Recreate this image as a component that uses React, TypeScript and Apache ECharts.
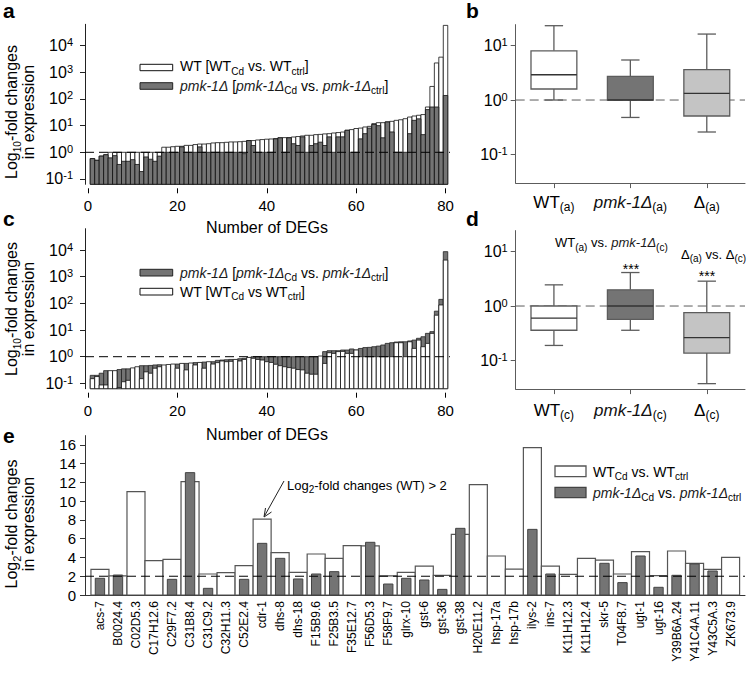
import { useEffect, useRef } from 'react';
import * as echarts from 'echarts';

const FONT = '"Liberation Sans", Arial, Helvetica, sans-serif';

// ---------------- data ----------------
const degTicks = [0, 20, 40, 60, 80];
const decadeTicksAC = [-1, 0, 1, 2, 3, 4];
const decadeTicksBD = [-1, 0, 1];
const log2Ticks = [0, 2, 4, 6, 8, 10, 12, 14, 16];

// panel a: fold changes of the 80 DEGs
const aWT = [
  0.58, 0.5, 0.72, 0.81, 1, 1, 1, 1, 1, 1,
  1, 1, 1, 1, 1, 1, 1.55, 1.55, 1.62, 1.68,
  1.68, 1.82, 1.82, 1.95, 2.04, 2.04, 2.1, 2.24, 2.3, 2.3,
  2.37, 2.45, 2.45, 2.5, 2.57, 2.75, 2.75, 2.9, 3.0, 3.1,
  3.16, 3.25, 3.5, 3.55, 3.55, 3.75, 3.9, 4.1, 4.35, 4.35,
  4.6, 4.7, 4.9, 5.0, 5.3, 5.5, 5.75, 6.7, 7.1, 7.8,
  8.1, 8.9, 9.4, 11.9, 12.9, 12.9, 13.8, 14.5, 15.8, 16.6,
  18.2, 21, 23, 24.5, 26, 50, 295, 2240, 3700, 57500,
];
const aPmk = [
  0.58, 0.5, 0.72, 0.81, 0.62, 0.75, 0.35, 0.46, 0.46, 0.53,
  0.35, 0.19, 0.67, 0.55, 0.46, 0.72, 1, 1, 1, 1,
  1.6, 1, 1, 1, 1.6, 1, 1, 1, 1, 1,
  1, 1, 1, 1, 0.89, 2.75, 1.8, 1, 1, 1,
  1, 3.2, 3.5, 1, 3.5, 2.1, 1.8, 3.8, 1, 1.8,
  2.1, 2.4, 1.8, 3.8, 1, 3.8, 3.8, 6.7, 1, 1,
  3.2, 5.0, 8.1, 11, 10, 3.5, 13.8, 5.8, 1, 1,
  1, 5.0, 15.8, 18, 4.6, 40, 50, 50, 1, 135,
];

// panel c
const cPmk = [
  0.2, 0.2, 0.24, 0.3, 0.28, 0.28, 0.33, 0.35, 0.35, 0.35,
  0.38, 0.46, 0.46, 0.47, 0.49, 0.5, 0.45, 0.47, 0.5, 0.53,
  0.52, 0.56, 0.55, 0.6, 0.58, 0.63, 0.6, 0.65, 0.73, 0.75,
  0.77, 0.79, 0.75, 0.84, 0.87, 0.9, 1, 1, 1, 1,
  1, 1, 1, 1, 1, 1, 1, 1, 1, 1,
  1, 1, 1.55, 1.68, 1.68, 1.68, 1.78, 1.78, 1.95, 1.78,
  2.04, 2.2, 2.24, 2.37, 2.5, 2.75, 3.16, 3.35, 3.55, 3.63,
  3.63, 3.9, 4.2, 4.9, 5.6, 7.5, 8.7, 51, 141, 8700,
];
const cWT = [
  0.15, 0.18, 0.087, 0.087, 0.3, 0.3, 0.07, 0.115, 0.13, 0.38,
  0.42, 0.15, 0.27, 0.24, 0.37, 0.42, 0.49, 0.51, 0.53, 0.37,
  0.56, 0.32, 0.58, 0.49, 0.61, 0.37, 0.65, 0.53, 0.6, 0.69,
  0.65, 0.67, 0.79, 0.69, 0.79, 0.94, 0.87, 0.79, 0.75, 0.65,
  0.61, 0.52, 0.46, 0.42, 0.39, 0.37, 0.33, 0.32, 0.24, 0.22,
  0.22, 1.06, 0.56, 1.41, 1.33, 1.55, 1.58, 1.33, 1.33, 1.78,
  1, 1, 1, 1, 1, 1, 1, 1, 3.35, 3.35,
  1, 3.63, 2.05, 4.2, 2.37, 3.16, 7.5, 36, 87, 4200,
];

// panels b and d: [lower whisker, Q1, median, Q3, upper whisker]
const catsB = ['WT(a)', 'pmk-1Δ(a)', 'Δ(a)'];
const catsD = ['WT(c)', 'pmk-1Δ(c)', 'Δ(c)'];
const bWT = [1.0, 1.59, 2.9, 7.96, 22.9];
const bPmk = [0.48, 1.0, 1.0, 2.7, 5.4];
const bDelta = [0.26, 0.51, 1.32, 3.6, 16.1];
const dWT = [0.19, 0.36, 0.6, 1.0, 2.44];
const dPmk = [0.36, 0.57, 1.0, 1.98, 4.1];
const dDelta = [0.038, 0.138, 0.265, 0.76, 2.85];

// panel e
const genes = [
  'acs-7', 'B0024.4', 'C02D5.3', 'C17H12.6', 'C29F7.2', 'C31B8.4', 'C31C9.2', 'C32H11.3', 'C52E2.4',
  'cdr-1', 'dhs-8', 'dhs-18', 'F15B9.6', 'F25B3.5', 'F35E12.7', 'F56D5.3', 'F58F9.7', 'glrx-10',
  'gst-6', 'gst-36', 'gst-38', 'H20E11.2', 'hsp-17a', 'hsp-17b', 'ilys-2', 'ins-7', 'K11H12.3',
  'K11H12.4', 'skr-5', 'T04F8.7', 'ugt-1', 'ugt-16', 'Y39B6A.24', 'Y41C4A.11', 'Y43C5A.3', 'ZK673.9',
];
const eWT = [
  2.74, 2.05, 11.02, 3.66, 3.8, 12.09, 2.24, 2.38, 3.13, 8.1, 4.52, 2.42, 4.37, 3.91, 5.26, 5.23,
  2.03, 2.42, 3.09, 2.1, 6.47, 11.77, 4.16, 2.77, 15.72, 3.09, 2.2, 3.91, 3.73, 2.24, 4.62, 2.06,
  4.69, 3.38, 2.74, 4.02,
];
const ePmk = [
  1.78, 2.13, 0, 0, 1.67, 13.05, 0.71, 0, 1.67, 5.51, 3.91, 1.71, 2.24, 2.49, 0, 5.62,
  1.17, 1.78, 1.6, 0.6, 7.11, 0, 0, 0, 7.0, 2.24, 0, 0, 3.38, 1.32, 4.16, 0.82,
  2.1, 3.31, 2.56, 0,
];

// ---------------- styling ----------------
const DARK = '#747474';
const LIGHT = '#c4c4c4';
const BOXLINE = '#5c5c5c';
const L = (v: number) => Math.log10(v);

const supRich = {
  b: { fontSize: 16, fontFamily: FONT, color: '#000', lineHeight: 18 },
  s: { fontSize: 11, fontFamily: FONT, color: '#000', lineHeight: 11, verticalAlign: 'top' },
};
const supFmt = (v: number) => `{b|10}{s|${Math.round(v)}}`;

const catRich = {
  n: { fontSize: 17, fontFamily: FONT, color: '#000', lineHeight: 22, fontWeight: 'normal' },
  i: { fontSize: 17, fontFamily: FONT, color: '#111', lineHeight: 22, fontStyle: 'italic', fontWeight: 'normal' },
  s: { fontSize: 12, fontFamily: FONT, color: '#000', lineHeight: 12, verticalAlign: 'bottom', fontWeight: 'normal' },
};
const catFmt = (name: string) => {
  const m = name.match(/^(.*)\((.)\)$/);
  if (!m) return name;
  const st = m[1].startsWith('pmk') ? 'i' : 'n';
  return `{${st}|${m[1]}}{s|(${m[2]})}`;
};

function logYAxis(gi: number, min: number, max: number, ticks: number[], color: string, margin: number) {
  return {
    type: 'value', gridIndex: gi, min, max,
    axisLine: { show: true, onZero: false, lineStyle: { color, width: 1 } },
    axisTick: { show: true, inside: false, length: 5, customValues: ticks, lineStyle: { color } },
    axisLabel: { show: true, customValues: ticks, formatter: supFmt, rich: supRich, margin },
    splitLine: { show: false },
  };
}
function degAxis(gi: number) {
  return {
    type: 'value', gridIndex: gi, min: -0.67, max: 81, offset: 4,
    axisLine: { show: false, onZero: false },
    axisTick: { show: true, length: 5, customValues: degTicks, lineStyle: { color: '#000' } },
    axisLabel: { customValues: degTicks, fontSize: 15, fontFamily: FONT, color: '#000', margin: 10 },
    splitLine: { show: false },
  };
}
function catAxis(gi: number, cats: string[], margin: number) {
  return {
    type: 'category', gridIndex: gi, data: cats, boundaryGap: true,
    axisLine: { show: true, onZero: false, lineStyle: { color: BOXLINE, width: 1 } },
    axisTick: { show: true, alignWithLabel: true, length: 5, lineStyle: { color: BOXLINE } },
    axisLabel: { formatter: catFmt, rich: catRich, margin, interval: 0 },
    splitLine: { show: false },
  };
}
function hiddenAxis(gi: number) {
  return { type: 'value', gridIndex: gi, min: 0, max: 1, show: false, axisLine: { onZero: false } };
}

function barSeries(xi: number, yi: number, data: number[][], base: number, wUnits: number,
  fill: string, stroke: string, lw: number, z: number) {
  return {
    type: 'custom', xAxisIndex: xi, yAxisIndex: yi, z, silent: true,
    data, encode: { x: 0, y: 1 },
    renderItem: (_p: any, api: any) => {
      const x = api.value(0);
      const v = api.value(1);
      if (!(v > base)) return null;
      const w = api.size([wUnits, 0])[0];
      const p0 = api.coord([x, base]);
      const p1 = api.coord([x, v]);
      return {
        type: 'rect',
        shape: { x: p0[0] - w / 2, y: p1[1], width: w, height: p0[1] - p1[1] },
        style: { fill, stroke, lineWidth: lw },
      };
    },
  };
}

function boxSeries(xi: number, yi: number, boxes: number[][], fills: string[]) {
  return {
    type: 'custom', xAxisIndex: xi, yAxisIndex: yi, z: 3, silent: true,
    data: boxes.map((b, i) => [i, ...b.map(L)]),
    encode: { x: 0, y: [1, 2, 3, 4, 5] },
    renderItem: (params: any, api: any) => {
      const x = api.value(0);
      const y = (k: number) => api.coord([x, api.value(k)])[1];
      const cx = api.coord([x, api.value(3)])[0];
      const band = api.size([1, 0])[0];
      const bw = band * 0.6;
      const cw = band * 0.24;
      const yLo = y(1), yQ1 = y(2), yMd = y(3), yQ3 = y(4), yHi = y(5);
      const ls = { stroke: BOXLINE, lineWidth: 1.3 };
      return {
        type: 'group',
        children: [
          { type: 'line', shape: { x1: cx, y1: yHi, x2: cx, y2: yQ3 }, style: ls },
          { type: 'line', shape: { x1: cx - cw / 2, y1: yHi, x2: cx + cw / 2, y2: yHi }, style: ls },
          { type: 'line', shape: { x1: cx, y1: yQ1, x2: cx, y2: yLo }, style: ls },
          { type: 'line', shape: { x1: cx - cw / 2, y1: yLo, x2: cx + cw / 2, y2: yLo }, style: ls },
          { type: 'rect', shape: { x: cx - bw / 2, y: yQ3, width: bw, height: yQ1 - yQ3 },
            style: { fill: fills[params.dataIndex], stroke: BOXLINE, lineWidth: 1.3 } },
          { type: 'line', shape: { x1: cx - bw / 2, y1: yMd, x2: cx + bw / 2, y2: yMd }, style: { stroke: '#333', lineWidth: 1.3 } },
        ],
      };
    },
  };
}

function hLine(xi: number, yi: number, x0: number, x1: number, y: number, color: string, z: number) {
  return {
    type: 'line', xAxisIndex: xi, yAxisIndex: yi, z, silent: true,
    data: [[x0, y], [x1, y]], symbol: 'none',
    lineStyle: { color, width: 1, type: [9, 5] },
  };
}

// ---------------- graphic helpers ----------------
const gRich = (size: number, sub: number) => ({
  n: { fontSize: size, fontFamily: FONT, fill: '#000', lineHeight: size + 6, fontWeight: 'normal' },
  i: { fontSize: size, fontFamily: FONT, fill: '#1a1a1a', lineHeight: size + 6, fontStyle: 'italic', fontWeight: 'normal' },
  s: { fontSize: sub, fontFamily: FONT, fill: '#000', lineHeight: sub, verticalAlign: 'bottom', fontWeight: 'normal' },
});
function txt(x: number, y: number, text: string, size: number, align = 'left', rotation = 0, sub = 10) {
  return {
    type: 'text', x, y, rotation, z: 100, silent: true,
    style: {
      text, fontFamily: FONT, fontSize: size, fill: '#000', align, verticalAlign: 'middle',
      rich: gRich(size, sub),
    },
  };
}
function letter(t: string, x: number, y: number) {
  return {
    type: 'text', x, y, z: 100, silent: true,
    style: { text: t, fontFamily: FONT, fontSize: 21, fontWeight: 'bold', fill: '#000', align: 'left', verticalAlign: 'middle' },
  };
}
function box(x: number, y: number, w: number, h: number, fill: string, stroke: string, lw = 1) {
  return { type: 'rect', z: 100, silent: true, shape: { x, y, width: w, height: h }, style: { fill, stroke, lineWidth: lw } };
}

const pmkLegend = '{i|pmk-1Δ}{n| [}{i|pmk-1Δ}{s|Cd}{n| vs. }{i|pmk-1Δ}{s|ctrl}{n|]}';

function buildOption() {
  const grids = [
    { left: 85, top: 24.3, width: 365, height: 160 },
    { left: 515.7, top: 24.6, width: 229.3, height: 158.5 },
    { left: 85, top: 228.7, width: 365, height: 160 },
    { left: 515.7, top: 230.6, width: 229.3, height: 158.5 },
    { left: 85, top: 435.6, width: 660, height: 159.4 },
  ].map((g) => ({ ...g, containLabel: false, outerBoundsMode: 'none' }));

  const xAxis: any[] = [
    degAxis(0),
    catAxis(1, catsB, 8),
    degAxis(2),
    catAxis(3, catsD, 10),
    {
      type: 'value', gridIndex: 4, min: -0.83, max: 35.8,
      axisLine: { show: true, onZero: false, lineStyle: { color: '#333', width: 1 } },
      axisTick: { show: false },
      axisLabel: {
        customValues: genes.map((_, i) => i),
        formatter: (v: number) => genes[Math.round(v)] ?? '',
        rotate: 90, fontSize: 12, fontFamily: FONT, color: '#000', margin: 6,
      },
      splitLine: { show: false },
    },
    hiddenAxis(1),
    hiddenAxis(3),
  ];
  const yAxis: any[] = [
    logYAxis(0, -1.2, 4.8, decadeTicksAC, '#222', 12),
    logYAxis(1, -1.52, 1.38, decadeTicksBD, BOXLINE, 8),
    logYAxis(2, -1.2, 4.8, decadeTicksAC, '#222', 12),
    logYAxis(3, -1.52, 1.38, decadeTicksBD, BOXLINE, 8),
    {
      type: 'value', gridIndex: 4, min: 0, max: 17,
      axisLine: { show: true, onZero: false, lineStyle: { color: '#333', width: 1 } },
      axisTick: { show: true, length: 5, customValues: log2Ticks, lineStyle: { color: '#333' } },
      axisLabel: { customValues: log2Ticks, fontSize: 15, fontFamily: FONT, color: '#000', margin: 9 },
      splitLine: { show: false },
    },
  ];

  const series: any[] = [
    // panel a: WT behind, pmk-1 in front
    barSeries(0, 0, aWT.map((v, i) => [i + 1, L(v)]), -1.2, 1, '#ffffff', '#111', 0.8, 2),
    barSeries(0, 0, aPmk.map((v, i) => [i + 1, L(v)]), -1.2, 1, DARK, '#111', 0.8, 3),
    hLine(0, 0, -0.67, 81, 0, '#000', 5),
    // panel c: pmk-1 behind, WT in front
    barSeries(2, 2, cPmk.map((v, i) => [i + 1, L(v)]), -1.2, 1, DARK, '#222', 0.8, 2),
    barSeries(2, 2, cWT.map((v, i) => [i + 1, L(v)]), -1.2, 1, '#ffffff', '#111', 0.8, 3),
    hLine(2, 2, -0.67, 81, 0, '#000', 5),
    // panel b
    hLine(5, 1, 0, 1, 0, BOXLINE, 1),
    boxSeries(1, 1, [bWT, bPmk, bDelta], ['#ffffff', DARK, LIGHT]),
    // panel d
    hLine(6, 3, 0, 1, 0, BOXLINE, 1),
    boxSeries(3, 3, [dWT, dPmk, dDelta], ['#ffffff', DARK, LIGHT]),
    // panel e
    barSeries(4, 4, eWT.map((v, i) => [i, v]), 0, 1, '#ffffff', '#555', 1.2, 2),
    barSeries(4, 4, ePmk.map((v, i) => [i, v]), 0, 0.52, DARK, '#444', 1, 3),
    hLine(4, 4, -0.83, 35.8, 2, '#000', 5),
  ];

  const graphic: any[] = [
    letter('a', 3, 10), letter('b', 466, 10), letter('c', 3, 218), letter('d', 466, 218), letter('e', 3, 435),
    // y titles
    txt(11, 112, '{n|Log}{s|10}{n|-fold changes}', 16, 'center', Math.PI / 2, 10),
    txt(28, 112, '{n|in expression}', 16, 'center', Math.PI / 2),
    txt(11, 309, '{n|Log}{s|10}{n|-fold changes}', 16, 'center', Math.PI / 2, 10),
    txt(28, 309, '{n|in expression}', 16, 'center', Math.PI / 2),
    txt(11, 524, '{n|Log}{s|2}{n|-fold changes}', 16, 'center', Math.PI / 2, 11),
    txt(28, 524, '{n|in expression}', 16, 'center', Math.PI / 2),
    // x titles
    txt(267, 227, '{n|Number of DEGs}', 16, 'center'),
    txt(267, 434, '{n|Number of DEGs}', 16, 'center'),
    // legend a
    box(140, 64.3, 32.7, 6.4, '#ffffff', '#111'),
    txt(180, 66, '{n|WT [WT}{s|Cd}{n| vs. WT}{s|ctrl}{n|]}', 14, 'left'),
    box(140, 82.7, 32.7, 6.6, DARK, '#222'),
    txt(180, 85.5, pmkLegend, 14, 'left'),
    // legend c
    box(140, 269.3, 32.7, 6.7, DARK, '#222'),
    txt(180, 272.5, pmkLegend, 14, 'left'),
    box(140, 288.3, 32.7, 6.7, '#ffffff', '#111'),
    txt(180, 291.5, '{n|WT [WT}{s|Cd}{n| vs WT}{s|ctrl}{n|]}', 14, 'left'),
    // legend e
    box(555, 466, 31, 10.7, '#ffffff', '#555', 1.3),
    txt(593, 471.5, '{n|WT}{s|Cd}{n| vs. WT}{s|ctrl}', 14, 'left'),
    box(555, 487.3, 31, 10.4, DARK, '#444', 1.3),
    txt(593, 492.5, '{i|pmk-1Δ}{s|Cd}{n| vs. }{i|pmk-1Δ}{s|ctrl}', 14, 'left'),
    // panel d annotations
    txt(555, 242.5, '{n|WT}{s|(a)}{n| vs. }{i|pmk-1Δ}{s|(c)}', 13, 'left'),
    txt(631, 268.5, '{n|***}', 14, 'center'),
    txt(681, 254, '{n|Δ}{s|(a)}{n| vs. Δ}{s|(c)}', 13, 'left'),
    txt(707, 276, '{n|***}', 14, 'center'),
    // panel e annotation
    txt(287, 485, '{n|Log}{s|2}{n|-fold changes (WT) > 2}', 13, 'left', 0, 10),
    { type: 'line', z: 100, silent: true, shape: { x1: 284, y1: 481, x2: 264.5, y2: 516 }, style: { stroke: '#222', lineWidth: 1 } },
    { type: 'polyline', z: 100, silent: true, shape: { points: [[271.5, 512], [264, 517], [265.5, 508]] }, style: { stroke: '#222', lineWidth: 1, fill: 'none' } },
  ];

  return { animation: false, backgroundColor: '#ffffff', grid: grids, xAxis, yAxis, series, graphic };
}

export default function App() {
  const ref = useRef<HTMLDivElement>(null);
  useEffect(() => {
    document.body.style.margin = '0';
    const chart = echarts.init(ref.current as HTMLDivElement, null, { renderer: 'svg' });
    chart.setOption(buildOption() as any);
    return () => chart.dispose();
  }, []);
  return <div ref={ref} style={{ width: 753, height: 674 }} />;
}
